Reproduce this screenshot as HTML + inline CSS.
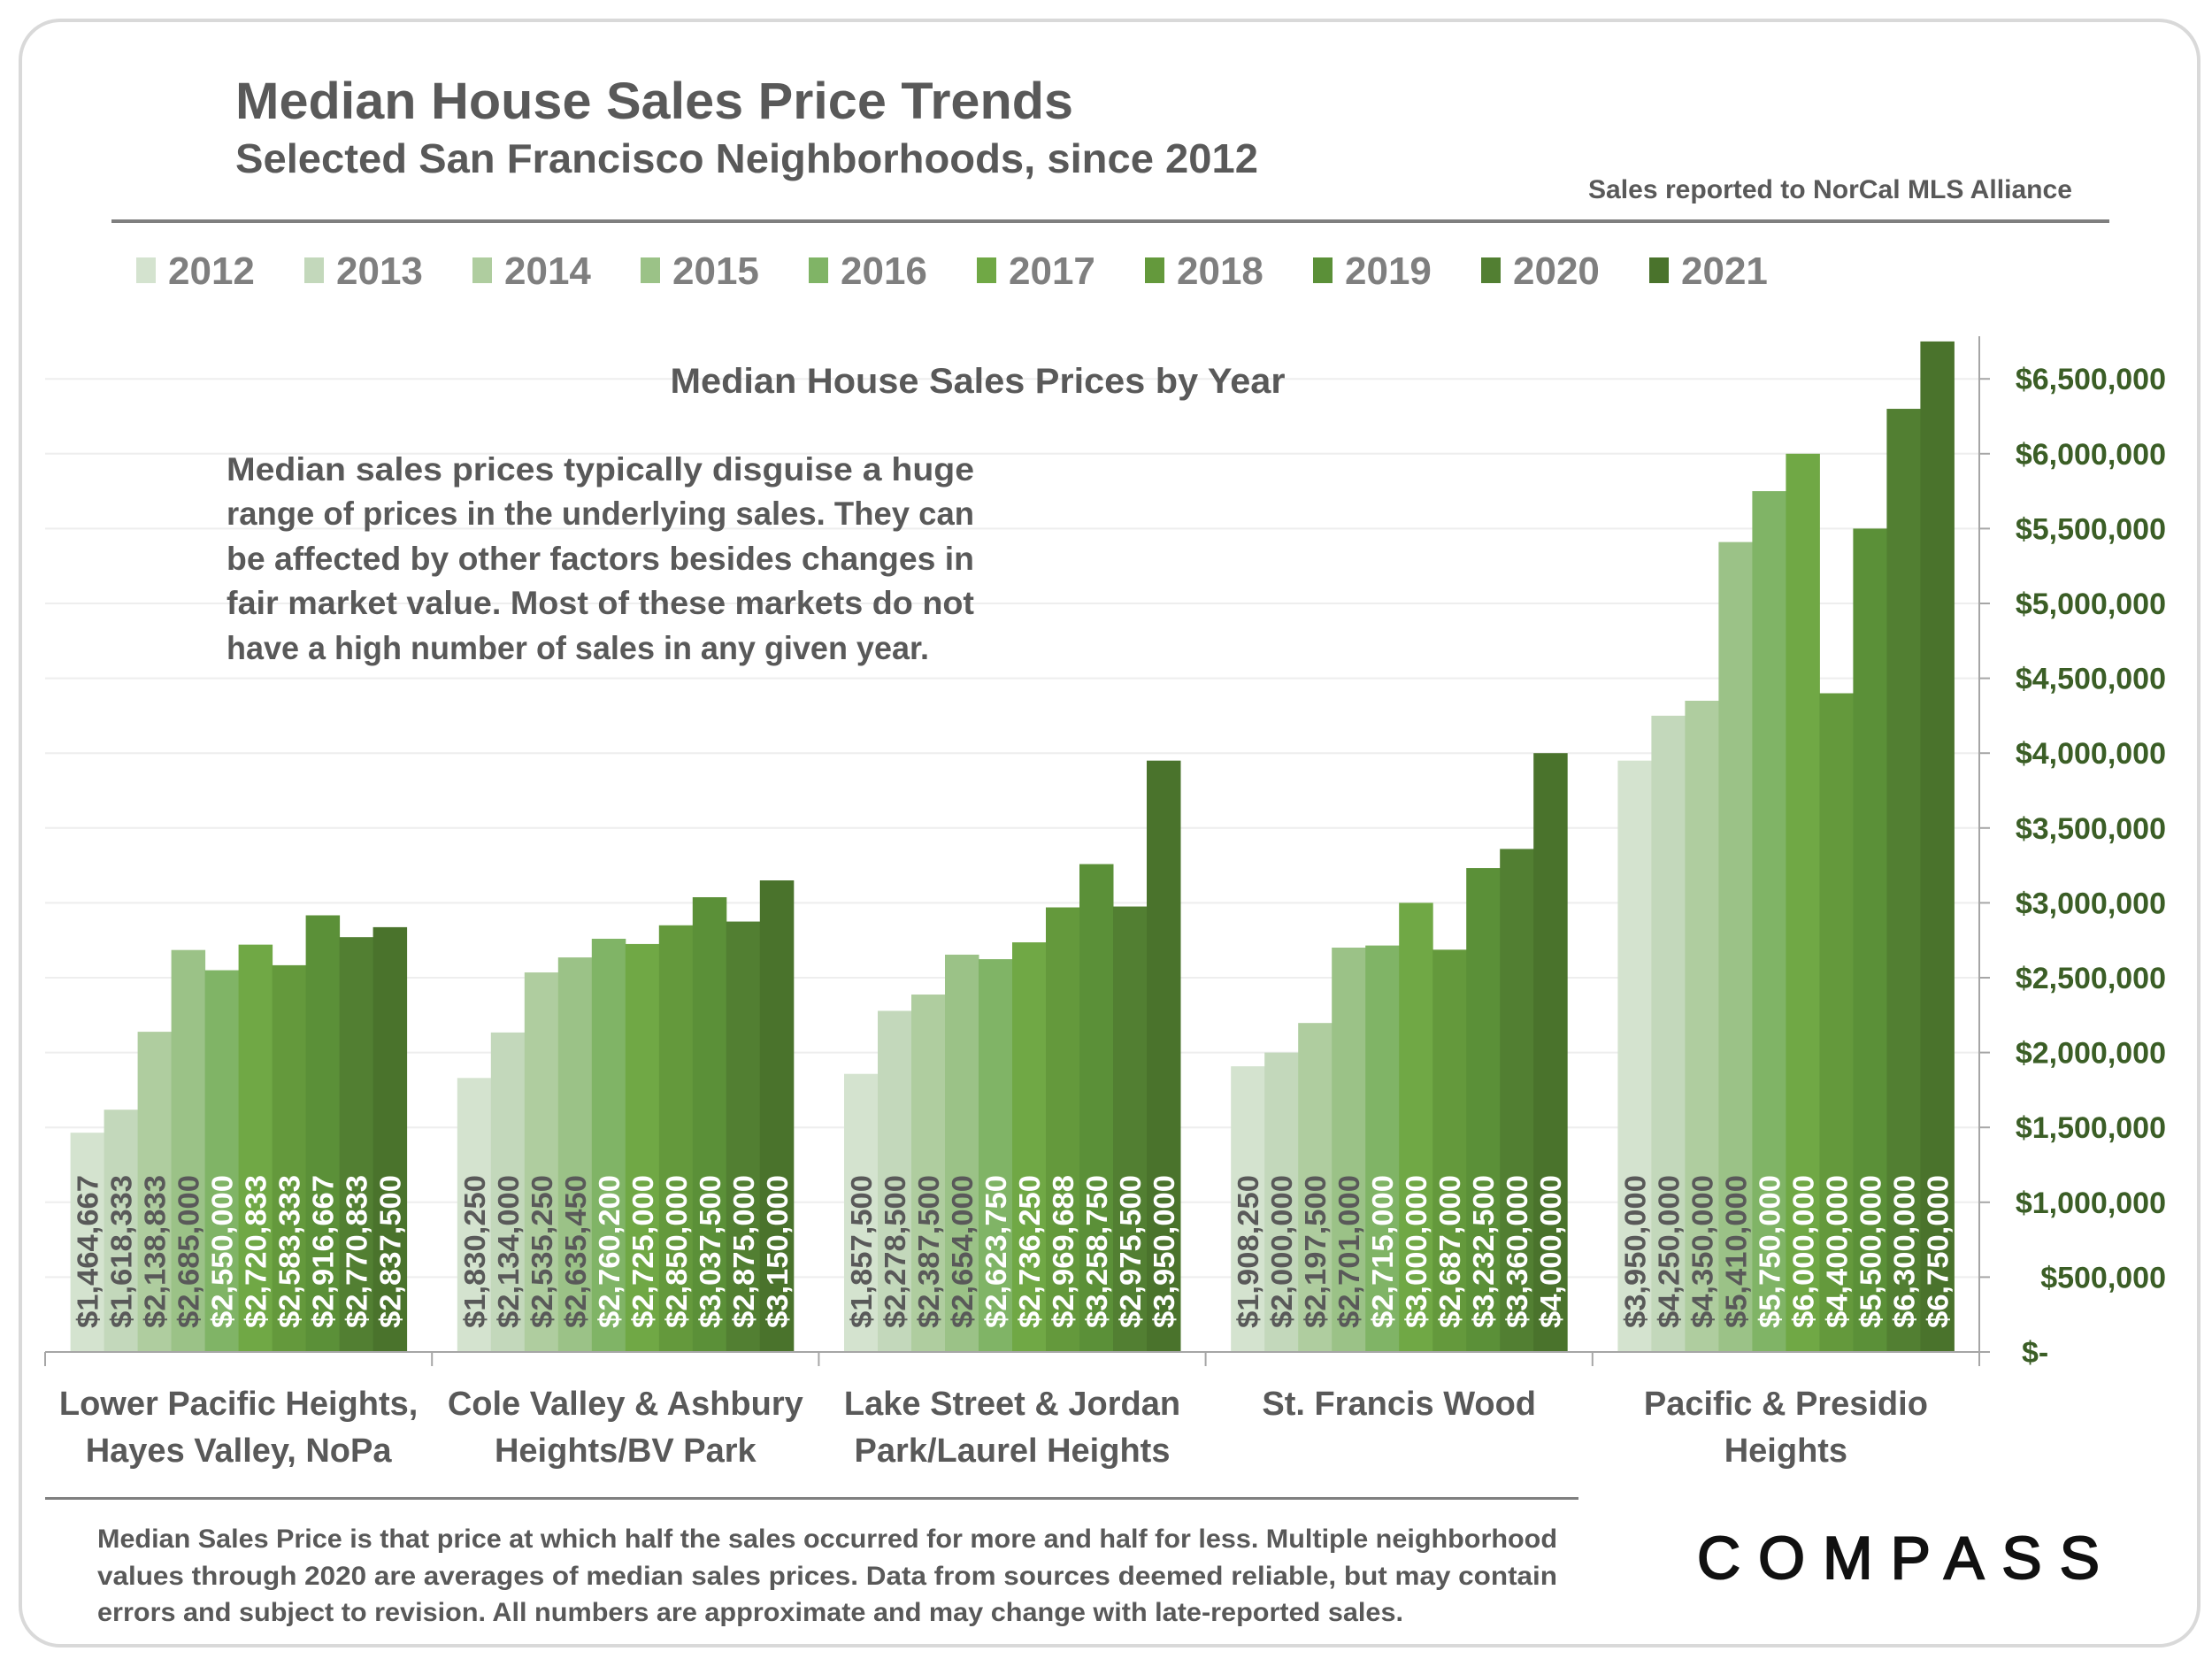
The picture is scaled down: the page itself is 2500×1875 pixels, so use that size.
<!DOCTYPE html>
<html><head><meta charset="utf-8"><style>
html,body{margin:0;padding:0;background:#fff;}
svg{display:block;font-family:"Liberation Sans",Arial,sans-serif;}
</style></head><body>
<svg id="chart" width="2500" height="1875" viewBox="0 0 2500 1875" xmlns="http://www.w3.org/2000/svg">
<rect x="23" y="23" width="2462" height="1837" rx="45" fill="#fff" stroke="#d9d9d9" stroke-width="4"/>
<text x="266" y="134" font-size="58" font-weight="bold" fill="#595959" textLength="947" lengthAdjust="spacingAndGlyphs">Median House Sales Price Trends</text>
<text x="266" y="195" font-size="46" font-weight="bold" fill="#595959" textLength="1156" lengthAdjust="spacingAndGlyphs">Selected San Francisco Neighborhoods, since 2012</text>
<text x="1795" y="224" font-size="30" font-weight="bold" fill="#595959" textLength="547" lengthAdjust="spacingAndGlyphs">Sales reported to NorCal MLS Alliance</text>
<rect x="126" y="248" width="2258" height="4" fill="#7f7f7f"/>
<g id="legend"></g>
<g id="grid"></g>
<g id="bars"></g>
<g id="axes"></g>
<text x="1105" y="444" text-anchor="middle" font-size="40" font-weight="bold" fill="#595959" textLength="695" lengthAdjust="spacingAndGlyphs">Median House Sales Prices by Year</text>
<g font-size="37" font-weight="bold" fill="#595959">
<text x="256" y="543" textLength="845" lengthAdjust="spacingAndGlyphs">Median sales prices typically disguise a huge</text>
<text x="256" y="593" textLength="845" lengthAdjust="spacingAndGlyphs">range of prices in the underlying sales. They can</text>
<text x="256" y="644" textLength="845" lengthAdjust="spacingAndGlyphs">be affected by other factors besides changes in</text>
<text x="256" y="694" textLength="845" lengthAdjust="spacingAndGlyphs">fair market value. Most of these markets do not</text>
<text x="256" y="745" textLength="794" lengthAdjust="spacingAndGlyphs">have a high number of sales in any given year.</text>
</g>
<rect x="51" y="1692" width="1733" height="3" fill="#7f7f7f"/>
<g font-size="30" font-weight="bold" fill="#595959">
<text x="110" y="1749" textLength="1650" lengthAdjust="spacingAndGlyphs">Median Sales Price is that price at which half the sales occurred for more and half for less. Multiple neighborhood</text>
<text x="110" y="1791" textLength="1650" lengthAdjust="spacingAndGlyphs">values through 2020 are averages of median sales prices. Data from sources deemed reliable, but may contain</text>
<text x="110" y="1832" textLength="1476" lengthAdjust="spacingAndGlyphs">errors and subject to revision.  All numbers are approximate and may change with late-reported sales.</text>
</g>
<text x="1918" y="1784" font-size="68" fill="#111" stroke="#111" stroke-width="2" textLength="455" lengthAdjust="spacing">COMPASS</text>
</svg>
<script>
const years = ["2012","2013","2014","2015","2016","2017","2018","2019","2020","2021"];
const categories = [["Lower Pacific Heights,","Hayes Valley, NoPa"],["Cole Valley & Ashbury","Heights/BV Park"],["Lake Street & Jordan","Park/Laurel Heights"],["St. Francis Wood",""],["Pacific & Presidio","Heights"]];
const lowerPacific = [1464667,1618333,2138833,2685000,2550000,2720833,2583333,2916667,2770833,2837500];
const coleValley = [1830250,2134000,2535250,2635450,2760200,2725000,2850000,3037500,2875000,3150000];
const lakeStreet = [1857500,2278500,2387500,2654000,2623750,2736250,2969688,3258750,2975500,3950000];
const stFrancis = [1908250,2000000,2197500,2701000,2715000,3000000,2687000,3232500,3360000,4000000];
const pacificPresidio = [3950000,4250000,4350000,5410000,5750000,6000000,4400000,5500000,6300000,6750000];
const tickValues = [0,500000,1000000,1500000,2000000,2500000,3000000,3500000,4000000,4500000,5000000,5500000,6000000,6500000];
const tickLabels = ["$-","$500,000","$1,000,000","$1,500,000","$2,000,000","$2,500,000","$3,000,000","$3,500,000","$4,000,000","$4,500,000","$5,000,000","$5,500,000","$6,000,000","$6,500,000"];
const series = [lowerPacific, coleValley, lakeStreet, stFrancis, pacificPresidio];
const colors = ["#d4e3cf","#c3d8bb","#afcd9f","#9bc287","#80b466","#70a845","#64993c","#5b9038","#527f32","#4a732c"];

const NS="http://www.w3.org/2000/svg";
const X0=51, X1=2237, Y0=1528, PX500=84.6;
const bandW=(X1-X0)/categories.length, barW=38, padL=(bandW-barW*10)/2;
function y(v){return Y0 - v/500000*PX500;}
function bx(ci,si){return X0+ci*bandW+padL+si*barW;}
function mk(tag,attrs,parent,txt){const e=document.createElementNS(NS,tag);for(const k in attrs)e.setAttribute(k,attrs[k]);if(txt!==undefined)e.textContent=txt;parent.appendChild(e);return e;}
function fmt(v){return "$"+v.toLocaleString("en-US");}

const grid=document.getElementById('grid'), bars=document.getElementById('bars'), axes=document.getElementById('axes'), legend=document.getElementById('legend');
tickValues.forEach((t,i)=>{
  if(i>0){const g=mk('line',{x1:X0,x2:X1,y1:y(t),y2:y(t),stroke:'#eeeeee','stroke-width':2},grid);
    
    }
  const tk=mk('line',{x1:X1,x2:X1+12,y1:y(t),y2:y(t),stroke:'#a6a6a6','stroke-width':2},axes);
  
  
  const lbl=tickLabels[i];
  const tx=mk('text',{x:lbl==="$-"?2285:2448,y:y(t)+12,'text-anchor':lbl==="$-"?'start':'end','font-size':34,'font-weight':'bold',fill:'#3b5e26'},axes,lbl);
  
  
});
const ya=mk('line',{x1:X1,x2:X1,y1:380,y2:Y0,stroke:'#a6a6a6','stroke-width':2},axes);


const xa=mk('line',{x1:X0,x2:X1,y1:Y0,y2:Y0,stroke:'#a6a6a6','stroke-width':2},axes);


for(let c=0;c<=categories.length;c++){
  const d=mk('line',{x1:X0+c*bandW,x2:X0+c*bandW,y1:Y0,y2:Y0+16,stroke:'#a6a6a6','stroke-width':2},axes);
  
  
}
series.forEach((vals,ci)=>{
  vals.forEach((v,si)=>{
    const r=mk('rect',{x:bx(ci,si),y:y(v),width:barW+0.5,height:Y0-y(v),fill:colors[si]},bars);
    
    
  });
  vals.forEach((v,si)=>{
    const cx=bx(ci,si)+barW/2+12, cy=Y0-27;
    const t=mk('text',{x:cx,y:cy,transform:`rotate(-90 ${cx} ${cy})`,'font-size':33,'font-weight':'bold',fill:si<4?'#595959':'#ffffff',textLength:173,lengthAdjust:'spacingAndGlyphs'},bars,fmt(v));
    
    
  });
  const cxm=X0+ci*bandW+bandW/2;
  categories[ci].forEach((line,li)=>{
    if(!line)return;
    const t=mk('text',{x:cxm,y:1599+li*53,'text-anchor':'middle','font-size':38,'font-weight':'bold',fill:'#595959'},axes,line);
    
    
  });
});
years.forEach((yr,i)=>{
  const lx=154+i*190;
  const s=mk('rect',{x:lx,y:291,width:22,height:29,fill:colors[i]},legend);
  
  
  const t=mk('text',{x:lx+36,y:321,'font-size':44,'font-weight':'bold',fill:'#7f7f7f'},legend,yr);
  
  
});
</script>
</body></html>
